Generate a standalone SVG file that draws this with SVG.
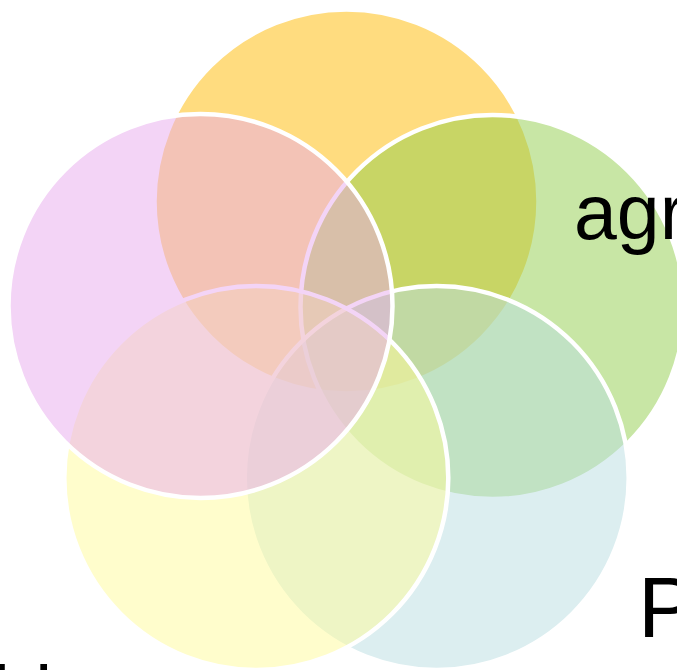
<svg xmlns="http://www.w3.org/2000/svg" width="677" height="670" viewBox="0 0 677 670">
  <style>
    .c { stroke: #FFFFFF; stroke-width: 4.5; fill-opacity: 0.5; }
    .t { font-family: "Liberation Sans", Arial, sans-serif; fill: #000000; }
  </style>
  <rect x="0" y="0" width="677" height="670" fill="#FFFFFF"/>
  <g id="node-orange">
    <circle class="c" cx="346.5" cy="201.5" r="192" fill="#FFB900"/>
  </g>
  <g id="node-green">
    <circle class="c" cx="492.5" cy="307" r="192" fill="#91CD4B"/>
    <text class="t" x="574" y="239" font-size="77">agr</text>
  </g>
  <g id="node-blue">
    <circle class="c" cx="436.7" cy="478" r="192" fill="#B9DDE1"/>
    <text class="t" x="638" y="637" font-size="86">P</text>
  </g>
  <g id="node-yellow">
    <circle class="c" cx="256.3" cy="478" r="192" fill="#FFFB99"/>
    <text class="t" x="-7" y="719" font-size="76">bi</text>
  </g>
  <g id="node-pink">
    <circle class="c" cx="200.5" cy="306" r="192" fill="#E7A9ED"/>
  </g>
</svg>
